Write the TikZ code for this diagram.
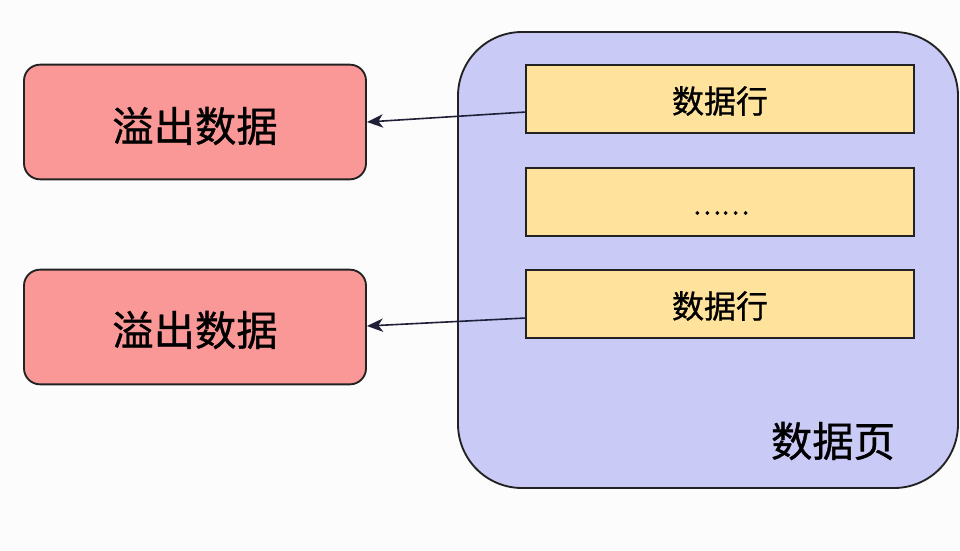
\documentclass[tikz,border=0pt]{standalone}
\usepackage{fontspec}
\setmainfont[FakeBold=0.9]{Noto Sans CJK SC}
\usetikzlibrary{arrows.meta}
\definecolor{bgc}{HTML}{FCFCFC}
\definecolor{redfill}{HTML}{FA9898}
\definecolor{pagefill}{HTML}{CACAF6}
\definecolor{rowfill}{HTML}{FFE39C}
\definecolor{edgec}{HTML}{222222}
\tikzset{
  overflow/.style={draw=edgec, line width=1.4pt, fill=redfill, rounded corners=12pt, inner sep=0pt},
  rowbox/.style={draw=edgec, line width=1.4pt, fill=rowfill, inner sep=0pt},
  pagebox/.style={draw=edgec, line width=1.4pt, fill=pagefill, rounded corners=48pt},
  conn/.style={draw=edgec!90!blue, line width=1.2pt, -{Stealth[length=12pt,width=10pt,inset=3.5pt]}},
}
\begin{document}
\begin{tikzpicture}[x=0.75pt,y=-0.75pt]
\fill[bgc] (0,0) rectangle (960,550);
\useasboundingbox (0,0) rectangle (960,550);
\draw[pagebox] (458,32) rectangle (958,488);
\node[font=\fontsize{31}{36}\selectfont, anchor=center] (pagelabel) at (833,441) {数据页};
\node[overflow, minimum width=256.5pt, minimum height=86pt] (o1) at (195,122) {};
\node[font=\fontsize{31}{36}\selectfont] (o1t) at (195,126) {溢出数据};
\node[overflow, minimum width=256.5pt, minimum height=86pt] (o2) at (195,327) {};
\node[font=\fontsize{31}{36}\selectfont] (o2t) at (195,330) {溢出数据};
\node[rowbox, minimum width=291pt, minimum height=51pt] (r1) at (720,99) {};
\node[font=\fontsize{24}{28}\selectfont] (r1t) at (720,101) {数据行};
\node[rowbox, minimum width=291pt, minimum height=51pt] (r2) at (720,202) {};
\node[font=\fontsize{20}{24}\selectfont] (r2t) at (721,213) {……};
\node[rowbox, minimum width=291pt, minimum height=51pt] (r3) at (720,304) {};
\node[font=\fontsize{24}{28}\selectfont] (r3t) at (720,306) {数据行};
\coordinate (a1s) at (526,112);
\coordinate (a1e) at (367,122);
\coordinate (a2s) at (526,318);
\coordinate (a2e) at (367,326);
\draw[conn] (a1s) -- (a1e);
\draw[conn] (a2s) -- (a2e);
\end{tikzpicture}
\end{document}
